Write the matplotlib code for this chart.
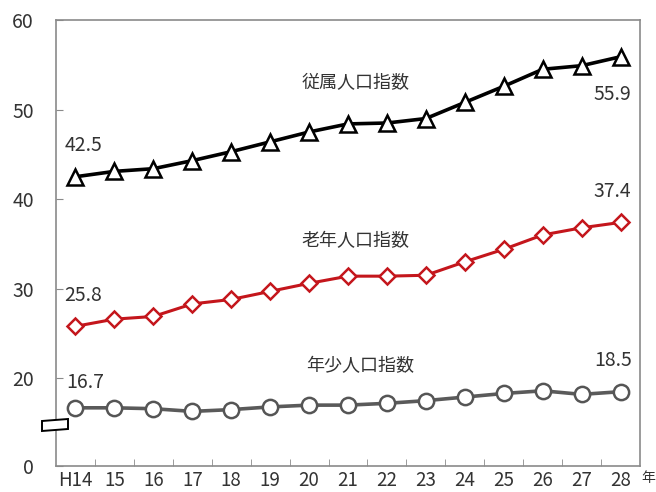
import matplotlib
matplotlib.use("Agg")
import matplotlib.pyplot as plt
from matplotlib.patches import Polygon

plt.rcParams["font.family"] = ["Noto Sans CJK JP", "DejaVu Sans"]

# data
years = ["H14", "15", "16", "17", "18", "19", "20", "21", "22", "23", "24", "25", "26", "27", "28"]
dependency = [42.5, 43.1, 43.4, 44.3, 45.3, 46.4, 47.5, 48.4, 48.5, 49.0, 50.8, 52.6, 54.5, 54.9, 55.9]
elderly = [25.8, 26.6, 26.9, 28.3, 28.8, 29.7, 30.6, 31.4, 31.4, 31.5, 33.0, 34.4, 36.0, 36.8, 37.4]
youth = [16.7, 16.7, 16.6, 16.3, 16.5, 16.8, 17.0, 17.0, 17.2, 17.5, 17.9, 18.3, 18.6, 18.2, 18.5]
ytick_values = [20, 30, 40, 50, 60]
ytick_labels = ["20", "30", "40", "50", "60"]

Y_BOTTOM = 10.2  # broken axis: "0" sits at the bottom
TXT = "#333333"
AXC = "#8a8a8a"

fig = plt.figure(figsize=(6.56, 4.92), dpi=100)
ax = fig.add_axes([0.0854, 0.0528, 0.8902, 0.9065])
x = list(range(len(years)))

ax.plot(x, youth, color="#5a5a5a", lw=2.6, marker="o", ms=11,
        mfc="white", mec="#555555", mew=1.8, zorder=3)
ax.plot(x, elderly, color="#c4161c", lw=2.2, marker="D", ms=8,
        mfc="white", mec="#c4161c", mew=1.8, zorder=3)
ax.plot(x, dependency, color="black", lw=2.6, marker="^", ms=11,
        mfc="white", mec="black", mew=1.8, zorder=3)

ax.set_xlim(-0.5, len(years) - 0.5)
ax.set_ylim(Y_BOTTOM, 60)

ax.set_xticks(x)
ax.set_xticklabels(years)
ax.set_xticks([i + 0.5 for i in x[:-1]], minor=True)
ax.tick_params(axis="x", which="major", length=0, pad=3, labelsize=13.5, labelcolor=TXT)
ax.tick_params(axis="x", which="minor", direction="in", length=5, color=AXC)

ax.set_yticks([Y_BOTTOM] + ytick_values)
ax.set_yticklabels(["0"] + ytick_labels)
ax.tick_params(axis="y", direction="in", length=5, color=AXC, pad=16,
               labelsize=14, labelcolor=TXT)
for s in ax.spines.values():
    s.set_color(AXC)
    s.set_linewidth(1.2)

# value labels
ax.text(0.2, dependency[0] + 2.3, "42.5", fontsize=14, color=TXT, ha="center", va="bottom")
ax.text(0.2, elderly[0] + 2.3, "25.8", fontsize=14, color=TXT, ha="center", va="bottom")
ax.text(0.25, youth[0] + 1.7, "16.7", fontsize=14, color=TXT, ha="center", va="bottom")
ax.text(13.8, dependency[-1] - 4.2, "55.9", fontsize=14, color=TXT, ha="center", va="center")
ax.text(13.8, elderly[-1] + 2.3, "37.4", fontsize=14, color=TXT, ha="center", va="bottom")
ax.text(13.8, youth[-1] + 2.3, "18.5", fontsize=14, color=TXT, ha="center", va="bottom")

# series names
ax.text(7.2, 53.0, "従属人口指数", fontsize=13, color=TXT, ha="center", va="center")
ax.text(7.2, 35.3, "老年人口指数", fontsize=13, color=TXT, ha="center", va="center")
ax.text(7.3, 21.4, "年少人口指数", fontsize=13, color=TXT, ha="center", va="center")

# axis break mark
W, H = 656, 492
pts = [(42, 421), (68, 419), (68, 429), (42, 431)]
fig.patches.append(Polygon([(px / W, 1 - py / H) for px, py in pts], closed=True,
                           transform=fig.transFigure, facecolor="white",
                           edgecolor="black", lw=1.4, zorder=5))

fig.text(648 / W, 1 - 478 / H, "年", fontsize=10, color=TXT, ha="center", va="center")

fig.savefig("out.png", dpi=100)
